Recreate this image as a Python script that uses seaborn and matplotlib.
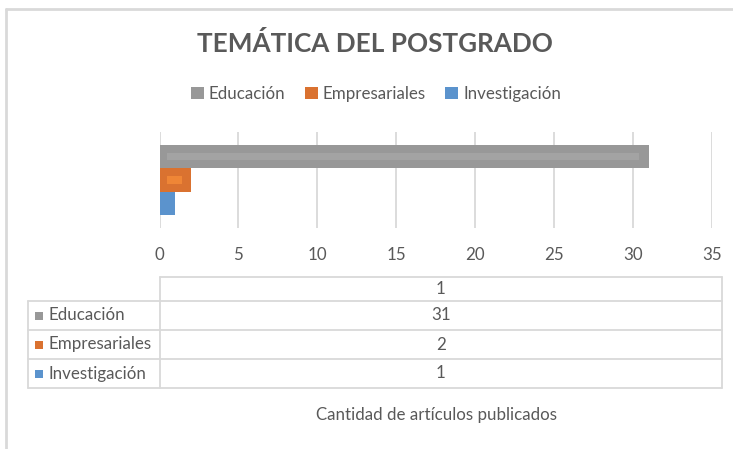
import matplotlib
matplotlib.use("Agg")
import matplotlib.pyplot as plt
import matplotlib.patches as mpatches
from matplotlib.lines import Line2D
import seaborn as sns
import pandas as pd

# ---- data ----
category = ["1"]
series = ["Educación", "Empresariales", "Investigación"]
values = [31, 2, 1]
colors = ["#989898", "#DA7230", "#5B93CD"]
inner_colors = ["#A3A3A3", "#EF8636", None]
xticks = [0, 5, 10, 15, 20, 25, 30, 35]
title = "TEMÁTICA DEL POSTGRADO"
xlabel = "Cantidad de artículos publicados"

sns.set_theme(style="white")
FONT = ["Lato", "DejaVu Sans"]
plt.rcParams["font.family"] = FONT
TXT = "#595959"
GRID = "#D9D9D9"
FS = 12.2

W, H = 733, 449
fig = plt.figure(figsize=(W / 100, H / 100), dpi=100)

def fx(px):
    return px / W

def fy(py):
    return 1 - py / H

ax = fig.add_axes([fx(159.5), fy(228), fx(711.7) - fx(159.5), fy(132) - fy(228)])

df = pd.DataFrame({"cat": category * len(series), "serie": series, "valor": values})
sns.barplot(data=df, x="valor", y="cat", hue="serie", hue_order=series,
            palette=colors, orient="h", width=0.73, ax=ax, legend=False,
            saturation=1, linewidth=0)

# inner highlight stripes (Excel-like look)
bars = [p for p in ax.patches if isinstance(p, mpatches.Rectangle)]
for p, ic in zip(bars, inner_colors):
    if ic is None:
        continue
    x0, y0, w, h = p.get_x(), p.get_y(), p.get_width(), p.get_height()
    ix = 0.5
    ih = h * 0.3
    ax.add_patch(mpatches.Rectangle((x0 + ix, y0 + (h - ih) / 2), max(w - 2 * ix - 0.1, 0.3), ih,
                                    facecolor=ic, edgecolor="none", zorder=3))

ax.set_xlim(0, 35)
ax.set_xticks(xticks)
ax.set_xticklabels([str(t) for t in xticks])
ax.set_yticks([])
ax.set_xlabel("")
ax.set_ylabel("")
for s in ax.spines.values():
    s.set_visible(False)
ax.grid(axis="x", color=GRID, linewidth=1.3)
ax.set_axisbelow(True)
ax.tick_params(axis="x", length=0, pad=14, labelsize=FS, labelcolor=TXT)

# title
fig.text(fx(375), fy(44), title, ha="center", va="center", fontsize=18.8,
         fontweight="bold", color=TXT)

# legend
handles = [mpatches.Patch(facecolor=c, edgecolor="none", label=s) for c, s in zip(colors, series)]
fig.legend(handles=handles, loc="center", bbox_to_anchor=(fx(376), fy(94)), ncol=3,
           frameon=False, handlelength=0.75, handleheight=0.75, handletextpad=0.3,
           columnspacing=1.15, fontsize=FS, labelcolor=TXT)

# data table
left, mid, right = 28, 159.5, 722
rows_y = [277, 301, 330, 359, 388]
lw = 1.3
def hline(y, x0, x1):
    fig.add_artist(Line2D([fx(x0), fx(x1)], [fy(y), fy(y)], color=GRID, lw=lw))
def vline(x, y0, y1):
    fig.add_artist(Line2D([fx(x), fx(x)], [fy(y0), fy(y1)], color=GRID, lw=lw))

hline(rows_y[0], mid, right)
for y in rows_y[1:]:
    hline(y, left, right)
vline(mid, rows_y[0], rows_y[-1])
vline(right, rows_y[0], rows_y[-1])
vline(left, rows_y[1], rows_y[-1])

cx = (mid + right) / 2
fig.text(fx(cx), fy((rows_y[0] + rows_y[1]) / 2), category[0], ha="center", va="center",
         fontsize=FS, color=TXT)
for i, (s, v, c) in enumerate(zip(series, values, colors)):
    yc = (rows_y[i + 1] + rows_y[i + 2]) / 2
    fig.add_artist(mpatches.Rectangle((fx(35), fy(yc + 4)), fx(8), fy(0) - fy(8),
                                      facecolor=c, edgecolor="none", transform=fig.transFigure))
    fig.text(fx(48), fy(yc), s, ha="left", va="center", fontsize=FS, color=TXT)
    fig.text(fx(cx), fy(yc), str(v), ha="center", va="center", fontsize=FS, color=TXT)

fig.text(fx(436), fy(415), xlabel, ha="center", va="center", fontsize=FS, color=TXT)

# chart frame (partially visible)
fig.add_artist(Line2D([fx(5.5), fx(W)], [fy(8.5), fy(8.5)], color=GRID, lw=2))
fig.add_artist(Line2D([fx(5.5), fx(5.5)], [fy(8.5), fy(H)], color=GRID, lw=2))

fig.savefig("out.png", dpi=100)
